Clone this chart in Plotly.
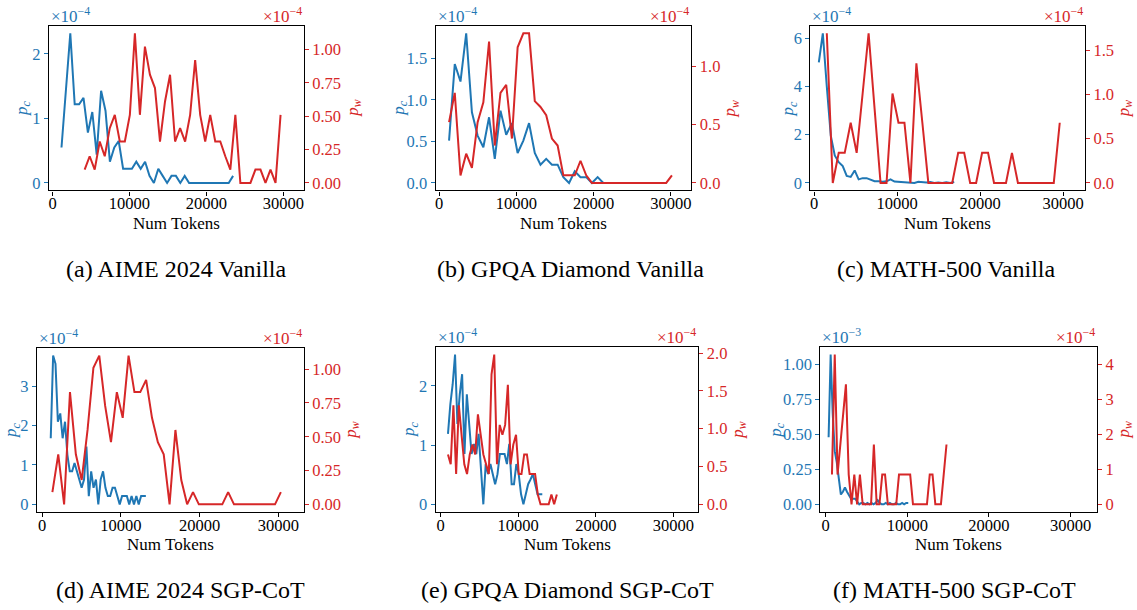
import plotly.graph_objects as go

W, H = 1137, 610
BLUE = "#1f77b4"
RED = "#d62728"
FONT = "Liberation Serif"

# ---------------- data (values in units of the axis multiplier) ----------------
# (a) AIME 2024 Vanilla   p_c (x1e-4), p_w (x1e-4)
a_pc_x0, a_pc_dx = 1160, 572
a_pc = [0.55, 1.45, 2.32, 1.22, 1.22, 1.32, 0.78, 1.10, 0.44, 1.43,
        1.12, 0.33, 0.55, 0.65, 0.22, 0.22, 0.22, 0.33, 0.22, 0.33,
        0.11, 0.0, 0.22, 0.11, 0.0, 0.11, 0.11, 0.0, 0.11, 0.0,
        0.0, 0.0, 0.0, 0.0, 0.0, 0.0, 0.0, 0.0, 0.0, 0.11]
a_pw_x0, a_pw_dx = 4170, 653
a_pw = [0.10, 0.20, 0.10, 0.31, 0.20, 0.41, 0.51, 0.31, 0.31, 0.51,
        1.12, 0.51, 1.02, 0.81, 0.71, 0.31, 0.61, 0.81, 0.31, 0.41,
        0.31, 0.51, 0.92, 0.51, 0.31, 0.51, 0.31, 0.31, 0.20, 0.10,
        0.51, 0.0, 0.0, 0.0, 0.10, 0.10, 0.0, 0.10, 0.0, 0.51]

# (b) GPQA Diamond Vanilla   p_c (x1e-4), p_w (x1e-4)
b_pc_x0, b_pc_dx = 1270, 740
b_pc = [0.51, 1.43, 1.22, 1.80, 0.85, 0.57, 0.43, 0.79, 0.29, 0.87,
        0.58, 0.72, 0.36, 0.51, 0.72, 0.36, 0.22, 0.29, 0.22, 0.22,
        0.07, 0.0, 0.14, 0.07, 0.07, 0.0, 0.07, 0.0]
b_pw_x0, b_pw_dx = 1270, 740
b_pw = [0.52, 0.77, 0.065, 0.25, 0.13, 0.52, 0.69, 1.21, 0.32, 0.77,
        0.84, 0.38, 1.16, 1.28, 1.28, 0.70, 0.65, 0.58, 0.38, 0.32,
        0.065, 0.065, 0.065, 0.19, 0.065, 0.0, 0.0, 0.0, 0.0, 0.0,
        0.0, 0.0, 0.0, 0.0, 0.0, 0.0, 0.0, 0.0, 0.0, 0.065]

# (c) MATH-500 Vanilla   p_c (x1e-4), p_w (x1e-4)
c_pc_x0, c_pc_dx = 560, 480
c_pc = [5.0, 6.2, 4.0, 1.96, 1.14, 0.86, 0.70, 0.29, 0.25, 0.52,
        0.15, 0.20, 0.20, 0.12, 0.07, 0.07, 0.05, 0.07, 0.15, 0.06,
        0.05, 0.04, 0.02, 0.03, 0.0, 0.05, 0.03, 0.02, 0.04, 0.0,
        0.02, 0.0, 0.03, 0.0, 0.04]
c_pw_x0, c_pw_dx = 1520, 720
c_pw = [1.69, 0.0, 0.34, 0.34, 0.68, 0.34, 1.01, 1.69, 0.84, 0.0,
        0.0, 1.01, 0.68, 0.68, 0.0, 1.35, 0.68, 0.0, 0.0, 0.0,
        0.0, 0.0, 0.34, 0.34, 0.0, 0.0, 0.34, 0.34, 0.0, 0.0,
        0.0, 0.34, 0.0, 0.0, 0.0, 0.0, 0.0, 0.0, 0.0, 0.68]

# (d) AIME 2024 SGP-CoT   p_c (x1e-4), p_w (x1e-4)
d_pc_x0, d_pc_dx = 1100, 302
d_pc = [1.68, 3.78, 3.57, 2.10, 2.31, 1.68, 2.10, 1.26, 0.84, 0.84,
        1.05, 0.84, 0.63, 0.42, 0.63, 1.47, 0.21, 0.84, 0.42, 0.63,
        0.0, 0.63, 0.84, 0.42, 0.21, 0.21, 0.42, 0.42, 0.21, 0.0,
        0.21, 0.21, 0.21, 0.0, 0.21, 0.0, 0.21, 0.0, 0.21, 0.21, 0.21]
d_pw_x0, d_pw_dx = 1310, 744
d_pw = [0.09, 0.37, 0.0, 0.83, 0.37, 0.18, 0.55, 1.01, 1.10, 0.73,
        0.46, 0.83, 0.64, 1.10, 0.83, 0.83, 0.92, 0.64, 0.46, 0.37,
        0.0, 0.55, 0.18, 0.0, 0.09, 0.0, 0.0, 0.0, 0.0, 0.0,
        0.09, 0.0, 0.0, 0.0, 0.0, 0.0, 0.0, 0.0, 0.0, 0.09]

# (e) GPQA Diamond SGP-CoT   p_c (x1e-4), p_w (x1e-4)
e_pc_x0, e_pc_dx = 943, 304
e_pc = [1.19, 1.69, 2.03, 2.53, 1.36, 1.86, 2.20, 0.85, 1.86, 1.36,
        0.85, 1.02, 0.85, 1.19, 0.51, 0.0, 0.68, 0.51, 0.68, 0.51,
        0.34, 0.51, 0.85, 0.85, 0.85, 0.68, 1.02, 0.34, 0.34, 0.68,
        0.51, 0.17, 0.0, 0.17, 0.34, 0.42, 0.51, 0.34, 0.17, 0.17, 0.17]
e_pw_x0, e_pw_dx = 943, 351
e_pw = [0.66, 0.53, 1.31, 0.40, 1.31, 0.92, 0.53, 0.40, 0.66, 0.79,
        0.66, 1.19, 0.92, 0.66, 0.53, 0.40, 1.72, 1.98, 0.53, 1.05,
        0.92, 1.05, 1.58, 0.53, 0.79, 0.92, 0.40, 0.40, 0.66, 0.66,
        0.40, 0.40, 0.40, 0.13, 0.0, 0.0, 0.0, 0.0, 0.13, 0.0, 0.13]

# (f) MATH-500 SGP-CoT   p_c (x1e-3), p_w (x1e-4)
f_pc_x0, f_pc_dx = 370, 250
f_pc = [0.48, 1.07, 0.65, 0.38, 0.30, 0.20, 0.07, 0.09, 0.12, 0.09,
        0.06, 0.04, 0.04, 0.04, 0.02, 0.0, 0.01, 0.01, 0.0, 0.01,
        0.0, 0.01, 0.0, 0.01, 0.03, 0.01, 0.0, 0.0, 0.01, 0.0,
        0.01, 0.0, 0.0, 0.01, 0.0, 0.0, 0.01, 0.0, 0.01, 0.01]
f_pw_x0, f_pw_dx = 780, 342
f_pw = [0.85, 4.28, 0.85, 1.70, 2.55, 3.43, 0.85, 0.0, 0.85, 0.0,
        0.85, 0.0, 0.0, 0.0, 0.0, 1.71, 0.0, 0.0, 0.85, 0.85,
        0.0, 0.0, 0.0, 0.0, 0.85, 0.85, 0.85, 0.85, 0.85, 0.0,
        0.0, 0.0, 0.0, 0.0, 0.0, 0.85, 0.85, 0.0, 0.0, 0.0,
        0.85, 1.71]

captions = ["(a) AIME 2024 Vanilla", "(b) GPQA Diamond Vanilla", "(c) MATH-500 Vanilla",
            "(d) AIME 2024 SGP-CoT", "(e) GPQA Diamond SGP-CoT", "(f) MATH-500 SGP-CoT"]
pc_exps = ["−4", "−4", "−4", "−4", "−4", "−3"]
pw_exps = ["−4", "−4", "−4", "−4", "−4", "−4"]
x_tick_vals = [0, 10000, 20000, 30000]

series = [
    (a_pc_x0, a_pc_dx, a_pc, a_pw_x0, a_pw_dx, a_pw),
    (b_pc_x0, b_pc_dx, b_pc, b_pw_x0, b_pw_dx, b_pw),
    (c_pc_x0, c_pc_dx, c_pc, c_pw_x0, c_pw_dx, c_pw),
    (d_pc_x0, d_pc_dx, d_pc, d_pw_x0, d_pw_dx, d_pw),
    (e_pc_x0, e_pc_dx, e_pc, e_pw_x0, e_pw_dx, e_pw),
    (f_pc_x0, f_pc_dx, f_pc, f_pw_x0, f_pw_dx, f_pw),
]

# ---------------- layout / style (pixels) ----------------
frames = [(48, 23, 303, 189), (435, 23, 691, 189), (810, 23, 1085, 189),
          (36, 348, 303, 513), (435, 347, 698, 513), (820, 347, 1097, 513)]
xranges = [[-470, 32650]] * 3 + [[-650, 33230]] * 3
left_ticks = [(1, "d"), (0.5, ".1f"), (2, "d"), (1, "d"), (1, "d"), (0.25, ".2f")]
right_ticks = [(0.25, ".2f"), (0.5, ".1f"), (0.5, ".1f"), (0.25, ".2f"), (0.5, ".1f"), (1, "d")]
pc_title_x = [22, 399, 789, 11, 410, 777]
pw_title_x = [353, 731, 1125, 351, 739, 1125]
caption_pos = [(176, 268), (570, 268), (946, 268), (180, 592), (567, 592), (954, 592)]
xtitle_y = [222, 222, 222, 546, 546, 546]

fig = go.Figure()
annotations = []


def ref(prefix, k):
    return prefix + ("" if k == 1 else str(k))


def key(prefix, k):
    return prefix + "axis" + ("" if k == 1 else str(k))


TICK_SIZE = 16.5
for i, (s, fr) in enumerate(zip(series, frames)):
    n = i + 1
    pc_x0, pc_dx, pc, pw_x0, pw_dx, pw = s
    xk, ylk, yrk = n, 2 * n - 1, 2 * n
    pc_x = [pc_x0 + pc_dx * j for j in range(len(pc))]
    pw_x = [pw_x0 + pw_dx * j for j in range(len(pw))]
    fig.add_trace(go.Scatter(x=pc_x, y=pc, mode="lines", line=dict(color=BLUE, width=2),
                             xaxis=ref("x", xk), yaxis=ref("y", ylk), showlegend=False))
    fig.add_trace(go.Scatter(x=pw_x, y=pw, mode="lines", line=dict(color=RED, width=2),
                             xaxis=ref("x", xk), yaxis=ref("y", yrk), showlegend=False))
    x0, y0, x1, y1 = fr
    dom_x = [x0 / W, x1 / W]
    dom_y = [1 - y1 / H, 1 - y0 / H]
    common = dict(showgrid=False, zeroline=False, ticks="outside", ticklen=4, tickwidth=1,
                  showline=True, linecolor="black", linewidth=1.2)
    fig.layout[key("x", xk)] = dict(
        domain=dom_x, anchor=ref("y", ylk), range=xranges[i], tickvals=x_tick_vals,
        tickformat="d", tickcolor="black", mirror=True, ticklabelstandoff=-6,
        tickfont=dict(family=FONT, size=TICK_SIZE, color="black"), **common)
    pcmax = max(pc)
    pwmax = max(pw)
    ldt, lfmt = left_ticks[i]
    rdt, rfmt = right_ticks[i]
    fig.layout[key("y", ylk)] = dict(
        domain=dom_y, anchor=ref("x", xk), range=[-0.05 * pcmax, 1.05 * pcmax],
        tick0=0, dtick=ldt, tickformat=lfmt, tickcolor=BLUE,
        tickfont=dict(family=FONT, size=TICK_SIZE, color=BLUE), **common)
    fig.layout[key("y", yrk)] = dict(
        overlaying=ref("y", ylk), side="right", anchor=ref("x", xk),
        range=[-0.05 * pwmax, 1.05 * pwmax],
        tick0=0, dtick=rdt, tickformat=rfmt, tickcolor=RED,
        tickfont=dict(family=FONT, size=TICK_SIZE, color=RED), **common)

    cy = (y0 + y1) / 2
    # multipliers
    annotations.append(dict(text="×10<sup>" + pc_exps[i] + "</sup>", xref="paper", yref="paper",
                            x=x0 / W, y=1 - y0 / H, xanchor="left", yanchor="bottom", showarrow=False,
                            font=dict(family=FONT, size=17, color=BLUE), yshift=-2))
    annotations.append(dict(text="×10<sup>" + pw_exps[i] + "</sup>", xref="paper", yref="paper",
                            x=x1 / W, y=1 - y0 / H, xanchor="right", yanchor="bottom", showarrow=False,
                            font=dict(family=FONT, size=17, color=RED), yshift=-2))
    # axis titles
    annotations.append(dict(text="<i>p<sub>c</sub></i>", xref="paper", yref="paper",
                            x=pc_title_x[i] / W, y=1 - cy / H, xanchor="center", yanchor="middle",
                            textangle=-90, showarrow=False, font=dict(family=FONT, size=17, color=BLUE)))
    annotations.append(dict(text="<i>p<sub>w</sub></i>", xref="paper", yref="paper",
                            x=pw_title_x[i] / W, y=1 - cy / H, xanchor="center", yanchor="middle",
                            textangle=-90, showarrow=False, font=dict(family=FONT, size=17, color=RED)))
    annotations.append(dict(text="Num Tokens", xref="paper", yref="paper",
                            x=(x0 + x1) / 2 / W, y=1 - xtitle_y[i] / H, xanchor="center", yanchor="middle",
                            showarrow=False, font=dict(family=FONT, size=17, color="black")))
    cx, cyc = caption_pos[i]
    annotations.append(dict(text=captions[i], xref="paper", yref="paper",
                            x=cx / W, y=1 - cyc / H, xanchor="center", yanchor="middle",
                            showarrow=False, font=dict(family=FONT, size=24, color="black")))

fig.update_layout(width=W, height=H, margin=dict(l=0, r=0, t=0, b=0),
                  paper_bgcolor="white", plot_bgcolor="white",
                  annotations=annotations, showlegend=False)

fig.write_html("out.html")
